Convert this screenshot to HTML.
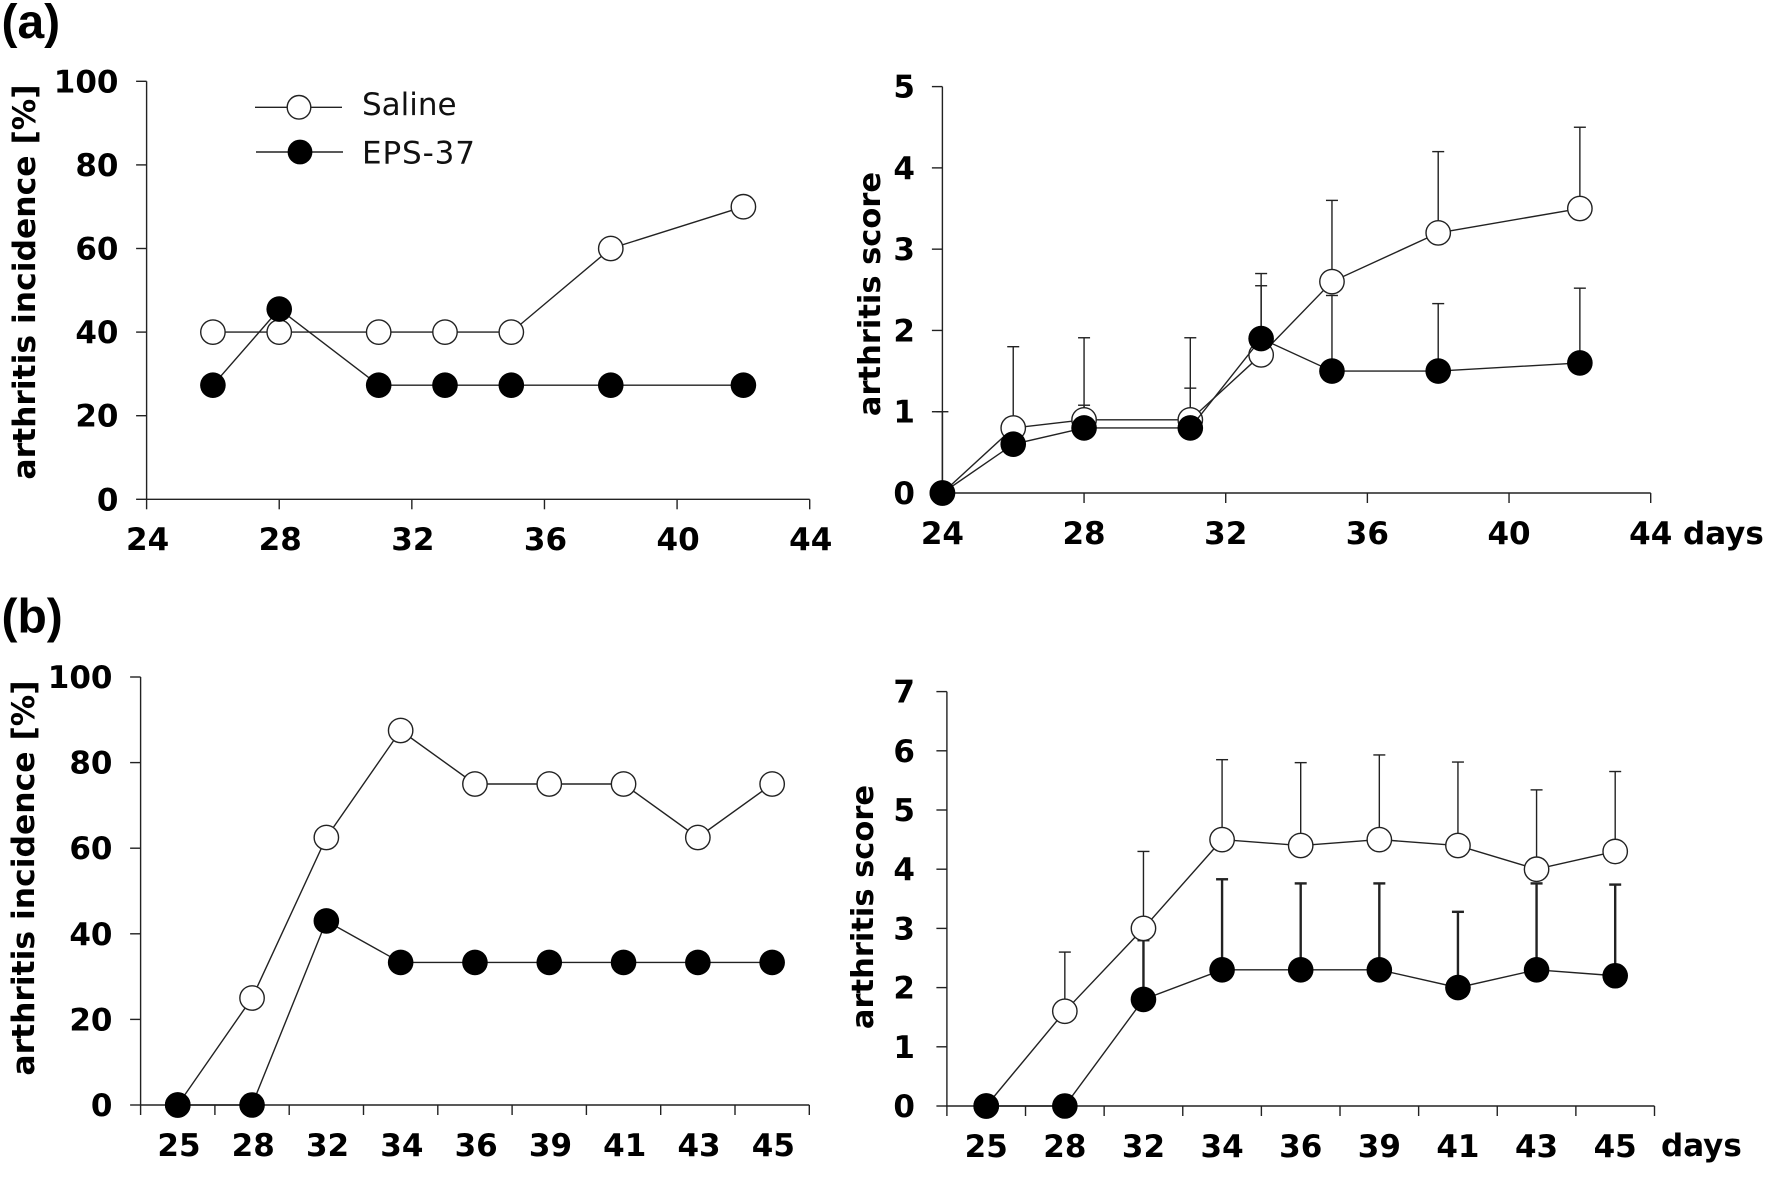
<!DOCTYPE html>
<html lang="en">
<head>
<meta charset="utf-8">
<title>Arthritis incidence and score</title>
<style>
html,body{margin:0;padding:0;background:#fff;width:1775px;height:1183px;overflow:hidden}
svg{display:block}
.tick{font:bold 31px "DejaVu Sans",sans-serif;fill:#000}
.legend{font:31px "DejaVu Sans",sans-serif;fill:#111}
.panel{font:bold 48px "Liberation Sans",sans-serif;fill:#000}
</style>
</head>
<body>
<svg id="fig" xmlns="http://www.w3.org/2000/svg" width="1775" height="1183" viewBox="0 0 1775 1183">
  <text class="panel" x="1.5" y="38">(a)</text>
  <text class="panel" x="1.5" y="632.5">(b)</text>
  <g>
    <g>
      <line x1="255" y1="107.3" x2="342" y2="107.3" stroke="#222" stroke-width="1.4"/>
      <circle cx="299" cy="107.3" r="11.8" fill="#fff" stroke="#222" stroke-width="1.4"/>
      <text class="legend" x="362" y="114.8">Saline</text>
    </g>
    <g>
      <line x1="256" y1="152" x2="343" y2="152" stroke="#222" stroke-width="1.4"/>
      <circle cx="300" cy="152" r="12.4" fill="#000"/>
      <text class="legend" x="362" y="163.7" textLength="113">EPS-37</text>
    </g>
  </g>
</svg>
<script>
// Panel (a), incidence
const aIncDays = [26, 28, 31, 33, 35, 38, 42];
const aIncSaline = [40, 40, 40, 40, 40, 60, 70];
const aIncEps = [27.3, 45.5, 27.3, 27.3, 27.3, 27.3, 27.3];
const aXTicks = [24, 28, 32, 36, 40, 44];
const aIncYTicks = [0, 20, 40, 60, 80, 100];

// Panel (a), score
const aScoreDays = [24, 26, 28, 31, 33, 35, 38, 42];
const aScoreSaline = [0, 0.8, 0.9, 0.9, 1.7, 2.6, 3.2, 3.5];
const aScoreSalineUpper = [1.0, 1.8, 1.91, 1.91, 2.7, 3.6, 4.2, 4.5];
const aScoreEps = [0, 0.6, 0.8, 0.8, 1.9, 1.5, 1.5, 1.6];
const aScoreEpsUpper = [null, null, 1.08, 1.29, 2.55, 2.43, 2.33, 2.52];
const aScoreYTicks = [0, 1, 2, 3, 4, 5];

// Panel (b), incidence
const bDays = ['25', '28', '32', '34', '36', '39', '41', '43', '45'];
const bIncSaline = [0, 25, 62.5, 87.5, 75, 75, 75, 62.5, 75];
const bIncEps = [0, 0, 43, 33.3, 33.3, 33.3, 33.3, 33.3, 33.3];
const bIncYTicks = [0, 20, 40, 60, 80, 100];

// Panel (b), score
const bScoreSaline = [0, 1.6, 3, 4.5, 4.4, 4.5, 4.4, 4, 4.3];
const bScoreSalineUpper = [null, 2.6, 4.3, 5.85, 5.8, 5.93, 5.81, 5.34, 5.65];
const bScoreEps = [0, 0, 1.8, 2.3, 2.3, 2.3, 2, 2.3, 2.2];
const bScoreEpsUpper = [null, null, 2.8, 3.83, 3.76, 3.76, 3.28, 3.76, 3.74];
const bScoreYTicks = [0, 1, 2, 3, 4, 5, 6, 7];

const NS = 'http://www.w3.org/2000/svg';
const svg = document.getElementById('fig');
const INK = '#222';

function make(tag, parent, name) {
  const el = document.createElementNS(NS, tag);
  
  
  parent.appendChild(el);
  return el;
}
function seg(parent, name, x1, y1, x2, y2, w) {
  const l = make('line', parent, name);
  l.setAttribute('x1', x1);
  l.setAttribute('y1', y1);
  l.setAttribute('x2', x2);
  l.setAttribute('y2', y2);
  l.setAttribute('stroke', INK);
  l.setAttribute('stroke-width', w || 1.4);
  return l;
}
function label(parent, name, str, x, y, anchor) {
  const t = make('text', parent, name);
  t.setAttribute('class', 'tick');
  t.setAttribute('x', x);
  t.setAttribute('y', y);
  t.setAttribute('text-anchor', anchor);
  t.textContent = str;
  return t;
}
function yTitle(parent, str, x, y, size) {
  const t = make('text', parent, 'y-axis-title');
  t.setAttribute('class', 'tick');
  t.setAttribute('text-anchor', 'middle');
  t.setAttribute('transform', 'translate(' + x + ',' + y + ') rotate(-90)');
  t.style.fontSize = size + 'px';
  t.textContent = str;
}

function drawPanel(cfg) {
  const g = make('g', svg, cfg.name);
  const sx = cfg.sx, sy = cfg.sy;

  // axes
  seg(g, 'y-axis-line', cfg.x0, sy(cfg.yMax), cfg.x0, sy(0));
  seg(g, 'x-axis-line', cfg.x0 - 0.7, sy(0), cfg.x1, sy(0));
  cfg.yTicks.forEach(function (v) {
    seg(g, 'y-tick', cfg.x0 - 10.5, sy(v), cfg.x0, sy(v));
    label(g, 'y-tick-label', String(v), cfg.yLabelRight, sy(v) + 11, 'end');
  });
  cfg.xTickPositions.forEach(function (x) {
    seg(g, 'x-tick', x, sy(0), x, sy(0) + 10);
  });
  cfg.xLabels.forEach(function (l) {
    label(g, 'x-tick-label', l.text, l.x + (cfg.xLabelShift || 0), cfg.xBaseline, 'middle');
  });
  if (cfg.daysX) {
    label(g, 'days-unit-label', 'days', cfg.daysX, cfg.daysY, 'start');
  }
  yTitle(g, cfg.title, cfg.titleX, cfg.titleY, cfg.titleSize);

  // error bars rise from the series mean to the upper value
  function errors(name, xs, means, upper, w) {
    if (!upper) return;
    upper.forEach(function (u, i) {
      if (u === null) return;
      const x = sx(xs[i]), y = sy(u);
      seg(g, name + '-error-bar', x, sy(means[i]), x, y, w);
      seg(g, name + '-error-cap', x - 6, y, x + 6, y, w);
    });
  }
  errors('saline', cfg.xs, cfg.saline, cfg.salineUpper, 1.4);
  errors('eps-37', cfg.xs, cfg.eps, cfg.epsUpper, cfg.epsErrWidth || 1.4);

  // series
  function series(name, xs, ys, filled) {
    const path = make('polyline', g, name + '-line');
    path.setAttribute('fill', 'none');
    path.setAttribute('stroke', INK);
    path.setAttribute('stroke-width', 1.4);
    path.setAttribute('points', ys.map(function (v, i) {
      return sx(xs[i]) + ',' + sy(v);
    }).join(' '));
    ys.forEach(function (v, i) {
      const c = make('circle', g, name + '-point');
      c.setAttribute('cx', sx(xs[i]));
      c.setAttribute('cy', sy(v));
      if (filled) {
        c.setAttribute('r', 12.8);
        c.setAttribute('fill', '#000');
      } else {
        c.setAttribute('r', 12.2);
        c.setAttribute('fill', '#fff');
        c.setAttribute('stroke', INK);
        c.setAttribute('stroke-width', 1.4);
      }
    });
  }
  series('saline', cfg.xs, cfg.saline, false);
  series('eps-37', cfg.xs, cfg.eps, true);
}

function linear(d0, d1, r0, r1) {
  return function (v) { return r0 + (v - d0) * (r1 - r0) / (d1 - d0); };
}
function indexList(n) {
  const out = [];
  for (let i = 0; i < n; i++) out.push(i);
  return out;
}
function dayPanelBase(x0, x1) {
  const sx = linear(24, 44, x0, x1);
  return {
    sx: sx, x0: x0, x1: x1,
    xTickPositions: aXTicks.map(sx),
    xLabels: aXTicks.map(function (v) { return { text: String(v), x: sx(v) }; })
  };
}
function catPanelBase(x0, x1) {
  const band = (x1 - x0) / bDays.length;
  const sx = function (i) { return x0 + band * (i + 0.5); };
  const ticks = indexList(bDays.length + 1).map(function (i) { return x0 + band * i; });
  return {
    sx: sx, x0: x0, x1: x1,
    xTickPositions: ticks,
    xLabels: bDays.map(function (d, i) { return { text: d, x: sx(i) }; })
  };
}

const p1 = dayPanelBase(146.6, 809.7);
p1.name = 'panel-a-incidence-chart';
p1.sy = linear(0, 100, 499.3, 81.3);
p1.yMax = 100;
p1.yTicks = aIncYTicks;
p1.yLabelRight = 118.5;
p1.xBaseline = 550;
p1.xLabelShift = 1;
p1.title = 'arthritis incidence [%]';
p1.titleX = 35;
p1.titleY = 282;
p1.titleSize = 31.4;
p1.xs = aIncDays;
p1.saline = aIncSaline;
p1.eps = aIncEps;
drawPanel(p1);

const p2 = dayPanelBase(942.4, 1650.7);
p2.name = 'panel-a-score-chart';
p2.sy = linear(0, 5, 493, 86.6);
p2.yMax = 5;
p2.yTicks = aScoreYTicks;
p2.yLabelRight = 915;
p2.xBaseline = 544;
p2.daysX = 1683;
p2.daysY = 544;
p2.title = 'arthritis score';
p2.titleX = 880;
p2.titleY = 294;
p2.titleSize = 30.5;
p2.xs = aScoreDays;
p2.saline = aScoreSaline;
p2.salineUpper = aScoreSalineUpper;
p2.eps = aScoreEps;
p2.epsUpper = aScoreEpsUpper;
drawPanel(p2);

const p3 = catPanelBase(140.6, 809.3);
p3.name = 'panel-b-incidence-chart';
p3.sy = linear(0, 100, 1105, 677);
p3.yMax = 100;
p3.yTicks = bIncYTicks;
p3.yLabelRight = 112.5;
p3.xBaseline = 1156;
p3.xLabelShift = 1.2;
p3.title = 'arthritis incidence [%]';
p3.titleX = 34;
p3.titleY = 878;
p3.titleSize = 31.4;
p3.xs = indexList(bDays.length);
p3.saline = bIncSaline;
p3.eps = bIncEps;
drawPanel(p3);

const p4 = catPanelBase(946.9, 1654.5);
p4.name = 'panel-b-score-chart';
p4.sy = linear(0, 7, 1106, 691.6);
p4.yMax = 7;
p4.yTicks = bScoreYTicks;
p4.yLabelRight = 915;
p4.xBaseline = 1157;
p4.daysX = 1661;
p4.daysY = 1156;
p4.title = 'arthritis score';
p4.titleX = 873;
p4.titleY = 907;
p4.titleSize = 30.5;
p4.xs = indexList(bDays.length);
p4.saline = bScoreSaline;
p4.salineUpper = bScoreSalineUpper;
p4.eps = bScoreEps;
p4.epsUpper = bScoreEpsUpper;
p4.epsErrWidth = 2.4;
drawPanel(p4);
</script>
</body>
</html>
